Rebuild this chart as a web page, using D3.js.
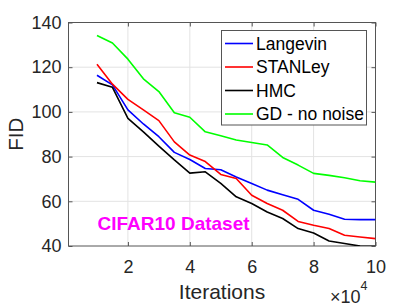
<!DOCTYPE html>
<html>
<head>
<meta charset="utf-8">
<script src="https://cdn.jsdelivr.net/npm/d3@7"></script>
<style>
  body { margin: 0; background: #fff; }
  text { font-family: "Liberation Sans", Arial, sans-serif; }
</style>
</head>
<body>
<div id="chart"></div>
<script>
// iterations in units of 10^4
const iterations = [1, 1.5, 2, 2.5, 3, 3.5, 4, 4.5, 5, 5.5, 6, 6.5, 7, 7.5, 8, 8.5, 9, 9.5, 10];
const langevin = [116.4, 112.1, 100.9, 94.6, 88.9, 81.9, 78.7, 74.7, 74.1, 70.9, 68.0, 65.0, 62.9, 60.9, 56.0, 54.2, 52.0, 51.8, 51.8];
const stanley  = [121.3, 112.4, 105.6, 100.9, 96.1, 86.6, 80.7, 77.8, 72.0, 70.2, 62.7, 59.0, 56.0, 51.0, 49.3, 47.8, 44.8, 44.0, 43.3];
const hmc      = [113.1, 111.0, 97.1, 91.1, 84.7, 78.5, 72.6, 73.2, 68.0, 62.0, 59.0, 55.2, 52.3, 47.8, 45.8, 42.2, 41.1, 40.0, 39.9];
const gdNoNoise = [134.2, 130.8, 123.6, 114.8, 109.1, 99.6, 97.6, 91.1, 89.3, 87.4, 86.3, 85.2, 79.6, 76.2, 72.5, 71.6, 70.5, 69.2, 68.6];

const seriesNames = ["Langevin", "STANLey", "HMC", "GD - no noise"];
const seriesColors = ["#0000ff", "#ff0000", "#000000", "#00ff00"];
const xTicks = [2, 4, 6, 8, 10];
const yTicks = [40, 60, 80, 100, 120, 140];

const W = 415, H = 308;
const pLeft = 68.5, pRight = 375.5, pTop = 22.5, pBottom = 246;

const svg = d3.select("#chart").append("svg")
  .attr("width", W).attr("height", H);

const x = d3.scaleLinear().domain([0.08, 10]).range([pLeft, pRight]);
const y = d3.scaleLinear().domain([40, 140]).range([pBottom, pTop]);

// grid
svg.append("g").selectAll("line").data(xTicks.filter(d => d < 10)).enter()
  .append("line")
  .attr("x1", d => x(d)).attr("x2", d => x(d))
  .attr("y1", pTop).attr("y2", pBottom)
  .attr("stroke", "#e3e3e3").attr("stroke-width", 1);
svg.append("g").selectAll("line").data(yTicks.filter(d => d > 40 && d < 140)).enter()
  .append("line")
  .attr("x1", pLeft).attr("x2", pRight)
  .attr("y1", d => y(d)).attr("y2", d => y(d))
  .attr("stroke", "#e3e3e3").attr("stroke-width", 1);

// axes (ticks inward, mirrored)
const tickStyle = g => {
  g.select(".domain").remove();
  g.selectAll(".tick line").attr("stroke", "#555");
  g.selectAll(".tick text").attr("fill", "#262626").style("font-size", "18px");
};
svg.append("g").attr("transform", `translate(0,${pBottom})`)
  .call(d3.axisBottom(x).tickValues(xTicks).tickSize(-4).tickFormat(d3.format("d")))
  .call(tickStyle)
  .call(g => g.selectAll(".tick text").attr("dy", "0.71em").attr("y", 14));
svg.append("g").attr("transform", `translate(0,${pTop})`)
  .call(d3.axisTop(x).tickValues(xTicks).tickSize(-4).tickFormat(""))
  .call(tickStyle);
svg.append("g").attr("transform", `translate(${pLeft},0)`)
  .call(d3.axisLeft(y).tickValues(yTicks).tickSize(-4).tickPadding(7))
  .call(tickStyle);
svg.append("g").attr("transform", `translate(${pRight},0)`)
  .call(d3.axisRight(y).tickValues(yTicks).tickSize(-4).tickFormat(""))
  .call(tickStyle);

svg.append("rect")
  .attr("x", pLeft).attr("y", pTop)
  .attr("width", pRight - pLeft).attr("height", pBottom - pTop)
  .attr("fill", "none").attr("stroke", "#555").attr("stroke-width", 1);

// lines
const allSeries = [langevin, stanley, hmc, gdNoNoise];
const line = d3.line().x((d, i) => x(iterations[i])).y(d => y(d));
svg.append("clipPath").attr("id", "clip")
  .append("rect").attr("x", pLeft).attr("y", pTop)
  .attr("width", pRight - pLeft).attr("height", pBottom - pTop);
svg.append("g").attr("clip-path", "url(#clip)")
  .selectAll("path").data(allSeries).enter()
  .append("path")
  .attr("d", line)
  .attr("fill", "none")
  .attr("stroke", (d, i) => seriesColors[i])
  .attr("stroke-width", 1.6)
  .attr("stroke-linejoin", "round");

// annotation
svg.append("text")
  .attr("x", 97.5).attr("y", 229.5)
  .attr("fill", "#ff00ff")
  .style("font-size", "19px").style("font-weight", "bold")
  .text("CIFAR10 Dataset");

// legend
const legend = svg.append("g");
legend.append("rect")
  .attr("x", 221.5).attr("y", 30.5).attr("width", 145).attr("height", 94.5)
  .attr("fill", "#fff").attr("stroke", "#555").attr("stroke-width", 1);
const entries = legend.selectAll("g.entry").data(seriesNames).enter()
  .append("g").attr("class", "entry")
  .attr("transform", (d, i) => `translate(0,${43.5 + i * 23.5})`);
entries.append("line")
  .attr("x1", 225).attr("x2", 253)
  .attr("stroke", (d, i) => seriesColors[i]).attr("stroke-width", 1.6);
entries.append("text")
  .attr("x", 256).attr("y", 0).attr("dy", "0.36em")
  .attr("fill", "#000")
  .style("font-size", "17.5px")
  .text(d => d);

// axis labels
svg.append("text")
  .attr("x", (pLeft + pRight) / 2).attr("y", 299)
  .attr("text-anchor", "middle").attr("fill", "#262626")
  .style("font-size", "21px")
  .text("Iterations");
svg.append("text")
  .attr("transform", `translate(23,${(pTop + pBottom) / 2}) rotate(-90)`)
  .attr("text-anchor", "middle").attr("fill", "#262626")
  .style("font-size", "20.5px")
  .text("FID");

// exponent
const expo = svg.append("text").attr("x", 330).attr("y", 303)
  .attr("fill", "#262626").style("font-size", "18px");
expo.append("tspan").text("\u00d710");
expo.append("tspan").attr("dy", -13).style("font-size", "12.5px").text("4");
</script>
</body>
</html>
